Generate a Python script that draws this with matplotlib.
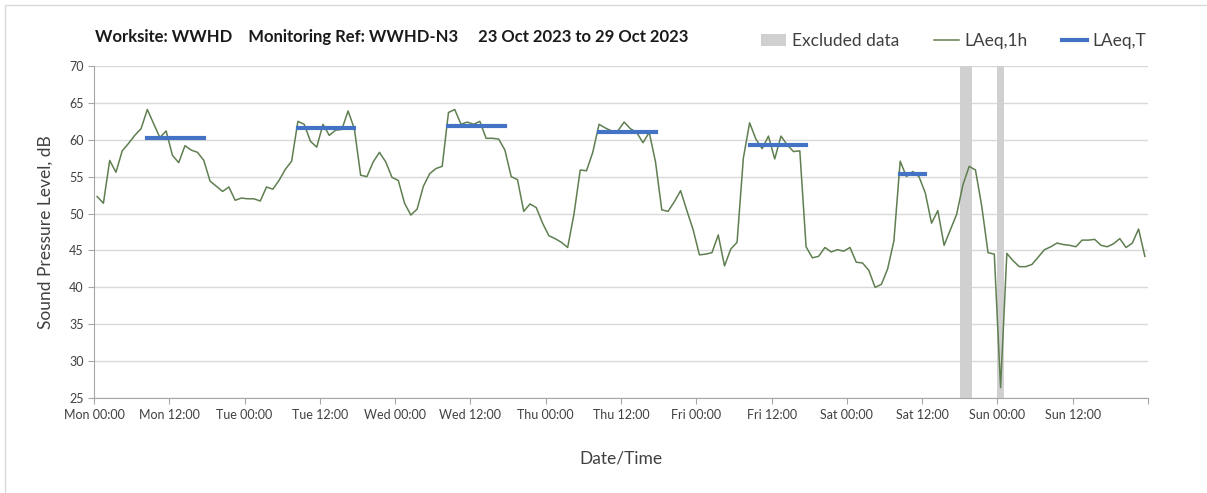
import matplotlib.pyplot as plt
from matplotlib.patches import Patch, Rectangle
from matplotlib.lines import Line2D
import numpy as np

plt.rcParams["font.family"] = ["Lato", "DejaVu Sans"]

# Hourly LAeq,1h values, Mon 23 Oct 00:00 onwards (168 hours)
laeq_1h = [
    52.3, 51.4, 57.2, 55.6, 58.5, 59.5, 60.6, 61.5, 64.1, 62.2, 60.3, 61.2,
    57.9, 56.9, 59.2, 58.6, 58.3, 57.2, 54.4, 53.7, 53.0, 53.6, 51.8, 52.1,
    52.0, 52.0, 51.7, 53.6, 53.3, 54.5, 56.0, 57.1, 62.5, 62.1, 59.8, 59.0,
    62.1, 60.6, 61.3, 61.4, 63.9, 61.5, 55.2, 55.0, 57.0, 58.3, 57.0, 54.9,
    54.5, 51.4, 49.8, 50.6, 53.7, 55.4, 56.1, 56.4, 63.7, 64.1, 62.1, 62.4,
    62.1, 62.5, 60.2, 60.2, 60.1, 58.6, 55.0, 54.6, 50.3, 51.3, 50.8, 48.7,
    47.0, 46.6, 46.1, 45.4, 49.9, 55.9, 55.8, 58.3, 62.1, 61.6, 61.2, 61.2,
    62.4, 61.5, 61.0, 59.6, 61.0, 57.0, 50.5, 50.3, 51.6, 53.1, 50.4, 47.8,
    44.4, 44.5, 44.7, 47.1, 42.9, 45.2, 46.1, 57.5, 62.3, 60.1, 58.8, 60.5,
    57.4, 60.5, 59.3, 58.4, 58.5, 45.5, 44.0, 44.2, 45.4, 44.8, 45.1, 44.9,
    45.4, 43.4, 43.3, 42.3, 40.0, 40.4, 42.5, 46.3, 57.1, 55.0, 55.7, 55.0,
    52.8, 48.7, 50.4, 45.7, 47.8, 49.9, 53.9, 56.4, 55.9, 51.0, 44.7, 44.5,
    26.4, 44.6, 43.6, 42.8, 42.8, 43.1, 44.1, 45.1, 45.5, 46.0, 45.8, 45.7,
    45.5, 46.4, 46.4, 46.5, 45.7, 45.5, 45.9, 46.6, 45.4, 46.0, 47.9, 44.2,
]

# LAeq,T per working period: (first hour, last hour, value)
laeq_t_start = [8, 32, 56, 80, 104, 128]
laeq_t_end = [17, 41, 65, 89, 113, 132]
laeq_t_value = [60.2, 61.6, 61.9, 61.1, 59.3, 55.3]

# Excluded data periods (hours from Mon 00:00)
excluded_start = [138, 144]
excluded_end = [140, 145]

days = ["Mon", "Tue", "Wed", "Thu", "Fri", "Sat", "Sun"]

hours = np.arange(len(laeq_1h)) + 0.5

fig = plt.figure(figsize=(12.07, 4.93), dpi=100)
ax = fig.add_axes([94 / 1207, 1 - 398 / 493, 1054 / 1207, 332 / 493])

# outer chart border
fig.patches.append(Rectangle((5 / 1207, -0.01), 1.2, 1 - 5 / 493 + 0.01, transform=fig.transFigure,
                             fill=False, edgecolor="#d9d9d9", lw=1))

for s, e in zip(excluded_start, excluded_end):
    ax.axvspan(s, e, color="#d0d0d0", lw=0, zorder=1)

ax.plot(hours, laeq_1h, color="#5f7f50", lw=1.1, zorder=3)

for s, e, v in zip(laeq_t_start, laeq_t_end, laeq_t_value):
    ax.plot([s + 0.5, e + 0.5], [v, v], color="#4472c4", lw=3, zorder=4)

ax.set_xlim(0, 168)
ax.set_ylim(25, 70)
ax.set_yticks(np.arange(25, 71, 5))
ax.set_xticks(np.arange(0, 169, 12))
labels = []
for d in days:
    labels += [f"{d} 00:00", f"{d} 12:00"]
labels.append("")
ax.set_xticklabels(labels)
ax.set_xticks(np.arange(0, 169, 24), minor=True)

ax.grid(axis="y", color="#d9d9d9", lw=1)
ax.grid(axis="x", which="minor", color="#d9d9d9", lw=1)
ax.set_axisbelow(True)

for side in ["top", "right"]:
    ax.spines[side].set_visible(False)
for side in ["left", "bottom"]:
    ax.spines[side].set_color("#a6a6a6")
ax.tick_params(axis="both", which="major", colors="#a6a6a6", labelcolor="#404040",
               labelsize=9, length=4, direction="out")
ax.tick_params(axis="x", which="minor", length=0)
ax.tick_params(axis="x", pad=4)

ax.set_ylabel("Sound Pressure Level, dB", fontsize=12.5, color="#404040", labelpad=11)
ax.set_xlabel("Date/Time", fontsize=12.5, color="#404040", labelpad=21)

fig.text(95 / 1207, 1 - 37 / 493,
         "Worksite: WWHD    Monitoring Ref: WWHD-N3     23 Oct 2023 to 29 Oct 2023",
         fontsize=12, fontweight="bold", color="#1a1a1a", va="center", ha="left")

handles = [
    Patch(facecolor="#d0d0d0", edgecolor="none"),
    Line2D([], [], color="#5f7f50", lw=1.1),
    Line2D([], [], color="#4472c4", lw=3),
]
fig.legend(handles, ["Excluded data", "LAeq,1h", "LAeq,T"], loc="center right",
           bbox_to_anchor=(1146 / 1207, 1 - 41 / 493), ncol=3, frameon=False,
           fontsize=12.5, handlelength=1.45, columnspacing=2.0, handletextpad=0.3,
           labelcolor="#404040", borderpad=0, borderaxespad=0)

fig.savefig("out.png", dpi=100)
